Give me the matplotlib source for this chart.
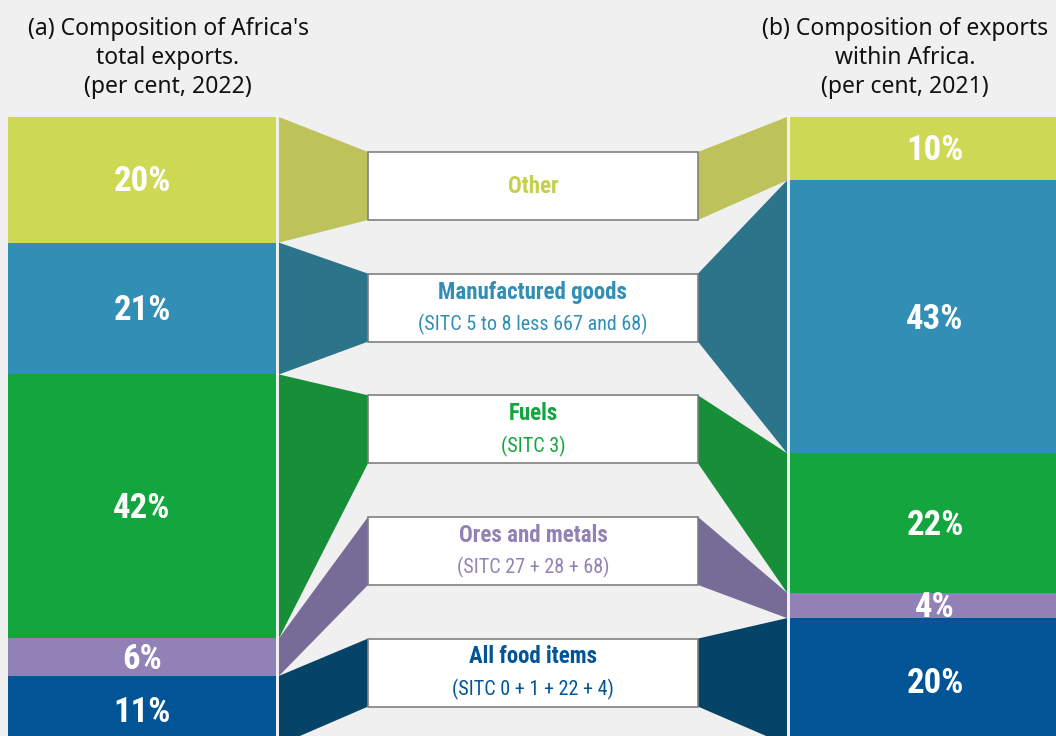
import matplotlib

matplotlib.use("Agg")
import matplotlib.pyplot as plt
from matplotlib.patches import Polygon, Rectangle

# --- data ---
categories = ["Other", "Manufactured goods", "Fuels", "Ores and metals", "All food items"]
subtitles = ["", "(SITC 5 to 8 less 667 and 68)", "(SITC 3)", "(SITC 27 + 28 + 68)", "(SITC 0 + 1 + 22 + 4)"]
share_total_2022 = [20, 21, 42, 6, 11]
share_intra_2021 = [10, 43, 22, 4, 20]
title_left = "(a) Composition of Africa's\ntotal exports.\n(per cent, 2022)"
title_right = "(b) Composition of exports\nwithin Africa.\n(per cent, 2021)"

bar_colors = ["#CDD954", "#318EB4", "#13A63E", "#9181B7", "#015495"]
link_colors = ["#BDC35A", "#2B7489", "#178F39", "#776B97", "#064467"]
text_colors = ["#C5D14C", "#318EB4", "#13A63E", "#9181B7", "#015495"]
BG = "#F0F0F0"

NARROW = ["Roboto Condensed", "Liberation Sans Narrow", "Roboto", "DejaVu Sans"]

# layout (x in pixels, y in percent of column height)
L0, L1 = 8, 276
LC0, LC1 = 279, 368
B0, B1 = 368, 698
RC0, RC1 = 698, 787
R0, R1 = 790, 1080
box_c0, box_step, box_h = 10.99, 19.37, 10.83
label_dy = 0.35  # nudge percent labels down a touch


def stack(vals):
    tot = float(sum(vals))
    tops, y = [], 0.0
    for v in vals:
        tops.append((y, y + v * 100.0 / tot))
        y += v * 100.0 / tot
    return tops


fig = plt.figure(figsize=(10.56, 7.36), dpi=100, facecolor=BG)
ax = fig.add_axes([0, 0, 1, 1])
ax.set_facecolor(BG)
ax.set_xlim(0, 1056)
ax.set_ylim(98.57, -18.63)
ax.axis("off")

left = stack(share_total_2022)
right = stack(share_intra_2021)

for i, cat in enumerate(categories):
    lt, lb = left[i]
    rt, rb = right[i]
    bt = box_c0 + i * box_step - box_h / 2
    bb = bt + box_h

    ax.add_patch(Rectangle((L0, lt), L1 - L0, lb - lt, fc=bar_colors[i], ec="none"))
    ax.add_patch(Rectangle((R0, rt), R1 - R0, rb - rt, fc=bar_colors[i], ec="none"))
    ax.add_patch(Polygon([(LC0, lt), (LC1, bt), (LC1, bb), (LC0, lb)], fc=link_colors[i], ec="none"))
    ax.add_patch(Polygon([(RC0, bt), (RC1, rt), (RC1, rb), (RC0, bb)], fc=link_colors[i], ec="none"))
    ax.add_patch(Rectangle((B0, bt), B1 - B0, box_h, fc="white", ec="#808080", lw=1.2, zorder=3))

    ax.text((L0 + L1) / 2, (lt + lb) / 2 + label_dy, f"{share_total_2022[i]}%", ha="center", va="center",
            color="white", fontsize=25, fontweight="bold", family=NARROW, zorder=4)
    ax.text((R0 + R1) / 2, (rt + rb) / 2 + label_dy, f"{share_intra_2021[i]}%", ha="center", va="center",
            color="white", fontsize=25, fontweight="bold", family=NARROW, zorder=4)

    cx = (B0 + B1) / 2
    if subtitles[i]:
        ax.text(cx, bt + box_h * 0.27, cat, ha="center", va="center", color=text_colors[i],
                fontsize=16.5, fontweight="bold", family=NARROW, zorder=4)
        ax.text(cx, bt + box_h * 0.75, subtitles[i], ha="center", va="center", color=text_colors[i],
                fontsize=14.5, family=NARROW, zorder=4)
    else:
        ax.text(cx, bt + box_h / 2, cat, ha="center", va="center", color=text_colors[i],
                fontsize=16.5, fontweight="bold", family=NARROW, zorder=4)

fig.text(168 / 1056, 1 - 58 / 736, title_left, ha="center", va="center", fontsize=16.5,
         linespacing=1.3, family=["Noto Sans", "DejaVu Sans"], color="#111111")
fig.text(905 / 1056, 1 - 58 / 736, title_right, ha="center", va="center", fontsize=16.5,
         linespacing=1.3, family=["Noto Sans", "DejaVu Sans"], color="#111111")

fig.savefig("out.png", dpi=100, facecolor=BG)
